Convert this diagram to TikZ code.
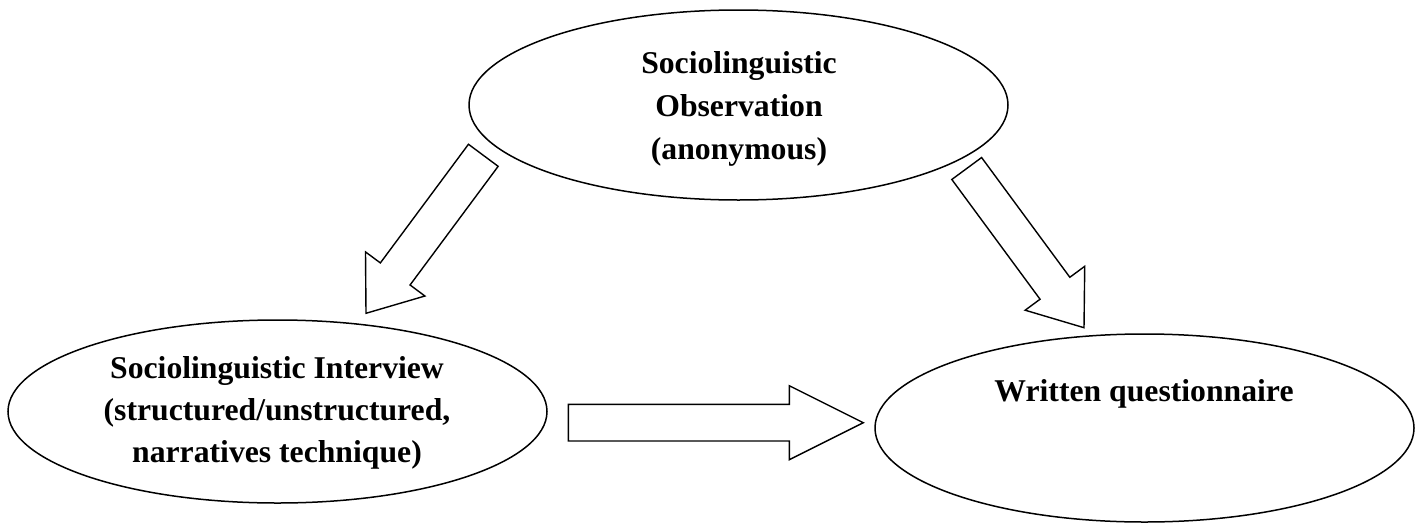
\documentclass[tikz,border=0pt]{standalone}
\usepackage{fontspec}
\setmainfont{Liberation Serif}
\usetikzlibrary{shapes.geometric,calc}
\begin{document}
\begin{tikzpicture}[x=1pt,y=-1pt,
  oval/.style={ellipse,draw,line width=1.5pt,inner sep=0pt},
  lab/.style={align=center,font=\fontsize{31.7}{43}\selectfont\bfseries,inner sep=0pt},
  blockarrow/.style={draw,line width=1.4pt,line join=miter,fill=white}]
\useasboundingbox (0,0) rectangle (1418,522);
\node[oval,minimum width=539pt,minimum height=190pt] (obs) at (738.5,105) {};
\node[oval,minimum width=539pt,minimum height=183pt] (int) at (277.5,411.5) {};
\node[oval,minimum width=539pt,minimum height=188pt] (que) at (1144.5,428) {};
\node[lab] (obst) at (739,108.7) {Sociolinguistic\\Observation\\(anonymous)};
\node[lab,font=\fontsize{31.7}{42}\selectfont\bfseries] (intt) at (277,412.7) {Sociolinguistic Interview\\(structured/unstructured,\\narratives technique)};
\node[lab,anchor=base] (quet) at (1144,401) {Written questionnaire};
% arrow tails and tips
\coordinate (t1) at (483.3,155.3); \coordinate (h1) at (366,313.3);
\coordinate (t2) at (966.7,168.5); \coordinate (h2) at (1084,327.7);
\coordinate (t3) at (568.3,422.7); \coordinate (h3) at (863.3,422.7);
\coordinate (b1) at ($(h1)!49pt!(t1)$);
\coordinate (b2) at ($(h2)!49pt!(t2)$);
\coordinate (b3) at ($(h3)!74pt!(t3)$);
\foreach \i/\w/\W in {1/18.5pt/37pt,2/18.5pt/37pt,3/18.3pt/37pt}{
  \draw[blockarrow] ($(t\i)!\w!90:(h\i)$) -- ($(b\i)!\w!90:(h\i)$) -- ($(b\i)!\W!90:(h\i)$)
    -- (h\i) -- ($(b\i)!\W!-90:(h\i)$) -- ($(b\i)!\w!-90:(h\i)$) -- ($(t\i)!\w!-90:(h\i)$) -- cycle;
}
\end{tikzpicture}
\end{document}
